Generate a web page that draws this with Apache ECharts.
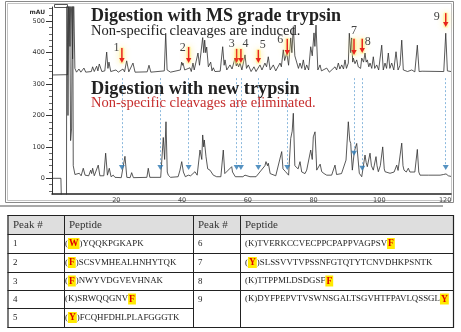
<!DOCTYPE html>
<html><head><meta charset="utf-8">
<script src="https://cdn.jsdelivr.net/npm/echarts@6/dist/echarts.min.js"></script>
<style>html,body{margin:0;padding:0;background:#fff}#c{width:461px;height:332px}</style>
</head><body><div id="c"></div>
<script>
// ---------- data ----------
const xTickLabels = [20, 40, 60, 80, 100, 120];
const yTickLabels = [0, 100, 200, 300, 400, 500];

// Trace digested with MS grade trypsin (time min, mAU)
const traceMS = [[0.44,329],[5.2,330],[5.55,620],[5.9,420],[6.2,620],[6.7,380],[7.0,600],[7.4,350],[7.9,338],
[8.64,348],[9.2,338],[10.16,351],[10.7,338],[12.4,340],[12.8,355],[13.3,340],[14.02,357],[14.4,342],[14.82,364],[15.6,340],[16.5,342],[17.07,402],[17.45,350],[17.77,370],[18.3,340],[19.9,345],[20.6,338],[22.03,348],[22.5,339],[23.15,374],[23.8,339],[25.07,367],[25.7,338],[29.4,339],[29.94,360],[30.5,338],[34.6,342],[35.02,462],[35.45,345],[36.5,338],[39.5,345],[39.88,370],[40.1,360],[40.28,367],[40.8,345],[42.41,352],[42.8,340],[43.32,367],[43.7,345],[44.84,399],[45.3,360],[46.27,448],[46.6,400],[46.88,440],[47.2,400],[47.49,418],[48.0,355],[48.71,370],[49.1,342],[49.5,352],[50.0,340],[51.6,341],[52.36,419],[52.8,360],[53.06,377],[53.6,345],[54.58,361],[55.2,348],[56.1,382],[56.5,358],[56.8,367],[57.2,355],[57.62,367],[58.2,345],[59.14,393],[59.6,350],[60.15,361],[61.0,340],[61.88,355],[62.5,340],[63.7,361],[64.3,345],[65.2,367],[65.7,355],[66.23,387],[66.8,345],[67.75,361],[68.5,342],[69.79,367],[70.2,355],[70.79,409],[71.2,375],[71.83,399],[72.4,360],[73.05,447],[73.4,400],[73.84,483],[74.3,390],[74.87,387],[75.4,350],[75.88,367],[76.4,350],[76.88,377],[77.4,345],[77.91,361],[78.5,345],[79.13,419],[79.6,390],[80.13,463],[80.4,420],[80.74,488],[81.3,345],[81.96,361],[82.4,342],[84.0,351],[84.8,338],[86.52,355],[87.0,345],[87.53,367],[88.0,348],[88.56,361],[89.1,348],[89.56,377],[90.0,350],[90.57,367],[90.87,462],[91.3,400],[91.6,447],[91.9,370],[92.09,383],[92.6,365],[93.12,377],[93.6,355],[93.91,361],[94.3,350],[94.65,383],[95.2,370],[95.65,399],[96.0,370],[96.35,377],[96.8,355],[97.17,367],[97.7,350],[98.17,387],[98.6,350],[99.21,361],[99.8,345],[100.73,424],[101.2,345],[101.73,367],[102.2,350],[102.74,399],[103.2,350],[103.77,367],[104.4,345],[105.08,403],[105.7,345],[106.3,360],[106.82,440],[107.3,345],[107.82,351],[108.6,340],[109.86,345],[110.8,339],[111.56,424],[112.1,340],[113,341],[119.6,340],[120.2,462],[120.7,342],[121.8,340]];

// Trace digested with new trypsin (time min, mAU)
const traceNew = [[0.44,0],[3.15,0],[3.3,-70],[4.85,-70],[4.95,800],[5.3,200],[5.69,800],[6.1,120],[6.4,160],[6.72,700],[6.9,40],[7.42,12],[8.0,8],[8.73,16],[9.3,8],[9.95,32],[10.5,10],[10.98,12],[11.6,8],[12.2,26],[12.5,15],[12.8,32],[13.3,8],[14.5,42],[15.0,8],[15.55,10],[16.2,8],[16.76,80],[17.3,10],[17.86,32],[18.4,5],[19.07,10],[19.6,3],[21.5,2],[22.63,70],[23.2,3],[24.2,2],[24.67,18],[25.2,2],[29.3,3],[29.72,32],[30.2,3],[33.5,3],[34.29,130],[34.7,60],[35.11,180],[35.5,20],[35.81,10],[36.5,3],[38.8,5],[39.37,26],[39.9,53],[40.4,20],[41.0,5],[41.89,10],[42.6,8],[43.93,21],[44.6,10],[45.45,90],[46.0,60],[46.27,138],[46.6,100],[46.76,122],[47.28,69],[47.8,30],[48.49,26],[49.5,10],[50.53,5],[51.8,5],[52.54,90],[53.0,15],[53.57,10],[55.1,37],[55.35,20],[55.58,26],[56.2,5],[58.5,5],[59.14,10],[60.66,5],[62.5,5],[65.2,40],[65.53,53],[66.0,40],[66.23,48],[66.8,15],[67.26,21],[68.5,8],[70.31,85],[70.7,30],[71.0,32],[71.4,22],[71.83,26],[72.4,10],[73.05,127],[73.5,150],[73.84,207],[74.3,40],[74.66,37],[75.3,30],[75.88,53],[76.4,20],[76.88,16],[77.4,15],[77.91,26],[78.5,20],[79.13,90],[79.6,60],[79.92,132],[80.44,148],[80.74,80],[80.96,26],[81.5,30],[82.0,45],[82.48,21],[83.2,15],[84.0,10],[85.5,10],[86.52,42],[87.0,12],[87.53,10],[88.5,15],[89.05,21],[89.87,58],[90.57,180],[91.0,120],[91.3,111],[91.79,26],[92.39,85],[92.8,100],[93.12,111],[93.91,16],[94.65,5],[95.65,74],[96.0,50],[96.35,37],[97.17,80],[97.6,40],[98.17,26],[98.99,69],[99.3,40],[99.7,21],[100.3,40],[101.03,100],[101.5,30],[101.73,21],[103.26,16],[104.5,20],[105.29,42],[105.7,25],[106.08,21],[106.82,112],[107.2,40],[107.51,26],[108.2,20],[108.82,32],[109.3,20],[109.86,21],[110.8,20],[111.56,92],[112.0,20],[112.38,10],[115,10],[118.5,10],[118.98,15],[119.5,12],[120.29,14],[121.0,8],[121.8,6]];

// Non-specific cleavage peaks (red arrows on upper trace)
const peakNumbers   = [1, 2, 3, 4, 5, 6, 7, 8, 9];
const peakTimes     = [21.7, 42.0, 56.6, 57.9, 63.2, 72.0, 92.3, 94.8, 120.2];
const arrowTopVal   = [415, 418, 412, 412, 409, 444, 444, 444, 526];
const arrowBotVal   = [367, 367, 367, 367, 367, 393, 393, 399, 482];

// Blue markers on lower trace (where the peaks are absent)
const markerTimes   = [21.7, 33.4, 42.0, 56.6, 57.9, 63.2, 72.0, 92.3, 94.8, 120.2];
const markerVals    = [34, 34, 34, 34, 34, 34, 34, 80, 32, 34];
const markerStartVal = 319;

// Table
const tableHeader = ['Peak #', 'Peptide', 'Peak #', 'Peptide'];
const leftRows = [
  ['1', '({h|W})YQQKPGKAPK'],
  ['2', '({h|F})SCSVMHEALHNHYTQK'],
  ['3', '({h|F})NWYVDGVEVHNAK'],
  ['4', '(K)SRWQQGNV{h|F}'],
  ['5', '({h|Y})FCQHFDHLPLAFGGGTK']
];
const rightRows = [
  ['6', '(K)TVERKCCVECPPCPAPPVAGPSV{h|F}'],
  ['7', '({h|Y})SLSSVVTVPSSNFGTQTYTCNVDHKPSNTK'],
  ['8', '(K)TTPPMLDSDGSF{h|F}'],
  ['9', '(K)DYFPEPVTVSWNSGALTSGVHTFPAVLQSSGL{h|Y}']
];

// ---------- layout / style ----------
const labelOffsets = [[-5.5,0],[-6,1],[-5,-5],[4.5,-5],[4.5,-5],[-7,1],[0,-8],[5.5,3],[-9,4]];
const SERIF = '"Liberation Serif", "DejaVu Serif", serif';

const chart = echarts.init(document.getElementById('c'), null, {renderer: 'canvas'});

const minorTicks = [];
for (let v = -40; v <= 540; v += 20) minorTicks.push(v);

const graphics = [];
// frame
graphics.push({type:'rect', shape:{x:5.5,y:1.5,width:448,height:201}, style:{fill:null, stroke:'#8a8a8a', lineWidth:1}, silent:true});
graphics.push({type:'rect', shape:{x:7.5,y:3.5,width:444,height:197}, style:{fill:null, stroke:'#c4c4c4', lineWidth:1}, silent:true});
graphics.push({type:'rect', shape:{x:54.5,y:4.5,width:13,height:3}, style:{fill:'#fff', stroke:'#555', lineWidth:1}, silent:true});
graphics.push({type:'rect', shape:{x:0,y:205,width:443,height:2}, style:{fill:'#a9a9a9'}, silent:true});
// titles
graphics.push({type:'text', style:{text:'mAU', x:45, y:12.5, font:'bold 6px "DejaVu Sans", sans-serif', fill:'#333', textAlign:'right', align:'right', textVerticalAlign:'middle', verticalAlign:'middle'}, z:10});
graphics.push({type:'text', style:{text:'Digestion with MS grade trypsin', x:91, y:16, font:'bold 18px '+SERIF, fill:'#222', textVerticalAlign:'middle', verticalAlign:'middle'}, z:10});
graphics.push({type:'text', style:{text:'Non-specific cleavages are induced.', x:91, y:31.5, font:'14.5px '+SERIF, fill:'#222', textVerticalAlign:'middle', verticalAlign:'middle'}, z:10});
graphics.push({type:'text', style:{text:'Digestion with new trypsin', x:91, y:89, font:'bold 18.3px '+SERIF, fill:'#222', textVerticalAlign:'middle', verticalAlign:'middle'}, z:10});
graphics.push({type:'text', style:{text:'Non-specific cleavages are eliminated.', x:91, y:103.5, font:'14.5px '+SERIF, fill:'#c62d2d', textVerticalAlign:'middle', verticalAlign:'middle'}, z:10});

// table
const T = {x0:7.5, x1:64, x2:193, x3:240, x4:453, yTop:215, rows:[234,253,272,290,308,327]};
graphics.push({type:'rect', shape:{x:T.x0,y:T.yTop,width:T.x4-T.x0,height:T.rows[0]-T.yTop}, style:{fill:'#dedede'}, silent:true});
function hl(x1,x2,y,w){graphics.push({type:'line', shape:{x1:x1,y1:y+0.5,x2:x2,y2:y+0.5}, style:{stroke:'#222', lineWidth:w||1}, silent:true});}
function vl(x,y1,y2,w){graphics.push({type:'line', shape:{x1:x+0.5,y1:y1,x2:x+0.5,y2:y2}, style:{stroke:'#222', lineWidth:w||1}, silent:true});}
hl(T.x0,T.x4,T.yTop,1.2);
[0,1,2,3].forEach(i=>hl(T.x0,T.x4,T.rows[i]));
hl(T.x0,T.x2,T.rows[4]);
hl(T.x0,T.x4,T.rows[5],1.2);
vl(T.x0,T.yTop,T.rows[5]+1,1.2); vl(T.x1,T.yTop,T.rows[5]); vl(T.x2,T.yTop,T.rows[5]); vl(T.x3,T.yTop,T.rows[5]); vl(T.x4,T.yTop,T.rows[5]+1,1.2);
const headX = [13, 69, 198, 245];
tableHeader.forEach((h,i)=>graphics.push({type:'text', style:{text:h, x:headX[i], y:(T.yTop+T.rows[0])/2+0.5, font:'11px '+SERIF, fill:'#333', textVerticalAlign:'middle', verticalAlign:'middle'}}));
const rich = {h:{backgroundColor:'#ffea00', color:'#e00000', fill:'#e00000', fontWeight:'bold', fontSize:9.5, fontFamily:'"Liberation Serif", serif', padding:[1,1,0,1]}};
function cellText(txt, x, y){
  graphics.push({type:'text', style:{text:txt, x:x, y:y, font:'8.9px '+SERIF, fontSize:8.9, fontFamily:'"Liberation Serif", serif', fill:'#222', rich:rich, textVerticalAlign:'middle', verticalAlign:'middle'}});
}
const rowMid = [243.5, 262.5, 281, 299, 317.5];
leftRows.forEach((r,i)=>{ cellText(r[0], 13, rowMid[i]+0.5); cellText(r[1], 65, rowMid[i]); });
rightRows.forEach((r,i)=>{ cellText(r[0], 198, rowMid[i]+0.5); cellText(r[1], 245, rowMid[i]); });

const option = {
  animation: false,
  backgroundColor: '#fff',
  grid: {left: 52, top: 7, right: 10, bottom: 138, containLabel: false},
  xAxis: {
    type: 'value', min: 0.44, max: 121.8,
    axisLine: {show: true, onZero: false, lineStyle: {color: '#222', width: 1.5}},
    axisTick: {show: false},
    splitLine: {show: false},
    axisLabel: {customValues: xTickLabels, fontSize: 6.5, color: '#444', margin: 3, fontFamily: '"DejaVu Sans", sans-serif'}
  },
  yAxis: [{
    type: 'value', min: -50, max: 545.5, position: 'left',
    axisLine: {show: true, onZero: false, lineStyle: {color: '#333', width: 1}},
    axisTick: {show: true, customValues: minorTicks, length: 3, lineStyle: {color: '#444', width: 0.8}},
    axisLabel: {show: false}, splitLine: {show: false}
  }, {
    type: 'value', min: -50, max: 545.5, position: 'left', offset: 0,
    axisLine: {show: false},
    axisTick: {show: true, customValues: yTickLabels, length: 6, lineStyle: {color: '#333', width: 1}},
    axisLabel: {customValues: yTickLabels, fontSize: 6.5, color: '#333', margin: 7, fontFamily: '"DejaVu Sans", sans-serif'},
    splitLine: {show: false}
  }],
  graphic: graphics,
  series: [
    {type: 'line', name: 'MS grade trypsin', data: traceMS, showSymbol: false, symbol: 'none', clip: true,
     lineStyle: {color: '#2e2e2e', width: 0.8}, z: 3},
    {type: 'line', name: 'new trypsin', data: traceNew, showSymbol: false, symbol: 'none', clip: true,
     lineStyle: {color: '#2e2e2e', width: 0.8}, z: 3},
    {type: 'scatter', name: 'markers', data: markerTimes.map((t,i)=>[t, markerVals[i]]),
     symbol: 'triangle', symbolRotate: 180, symbolSize: [6,5], itemStyle: {color: '#2a77b2'}, z: 6, silent: true,
     markLine: {silent: true, symbol: ['none','none'], label: {show: false},
       lineStyle: {type: [2,2], color: '#7fb2da', width: 0.9},
       data: markerTimes.map((t,i)=>[{coord:[t, markerStartVal]}, {coord:[t, markerVals[i]+4]}])}},
    {type: 'custom', name: 'arrows', z: 8, silent: true,
     data: peakTimes.map((t,i)=>[t, arrowTopVal[i], arrowBotVal[i], peakNumbers[i]]),
     renderItem: function(params, api){
       const t = api.value(0), top = api.value(1), bot = api.value(2), n = api.value(3);
       const p1 = api.coord([t, top]), p2 = api.coord([t, bot]);
       const off = labelOffsets[params.dataIndex];
       return {type:'group', children:[
         {type:'rect', shape:{x:p1[0]-2.5, y:p1[1]-1, width:5, height:p2[1]-p1[1]+2, r:2.5},
          style:{fill:'rgba(255,240,120,0.45)', shadowBlur:6, shadowColor:'rgba(255,225,60,0.9)'}},
         {type:'line', shape:{x1:p1[0], y1:p1[1], x2:p2[0], y2:p2[1]-4}, style:{stroke:'#e8231e', lineWidth:1.5}},
         {type:'polygon', shape:{points:[[p2[0]-2.7,p2[1]-5],[p2[0]+2.7,p2[1]-5],[p2[0],p2[1]]]}, style:{fill:'#e8231e'}},
         {type:'text', style:{text:String(n), x:p1[0]+off[0], y:p1[1]+off[1], font:'12px '+SERIF, fill:'#444',
           textAlign:'center', align:'center', textVerticalAlign:'middle', verticalAlign:'middle'}}
       ]};
     }}
  ]
};
chart.setOption(option);
</script>
</body></html>
